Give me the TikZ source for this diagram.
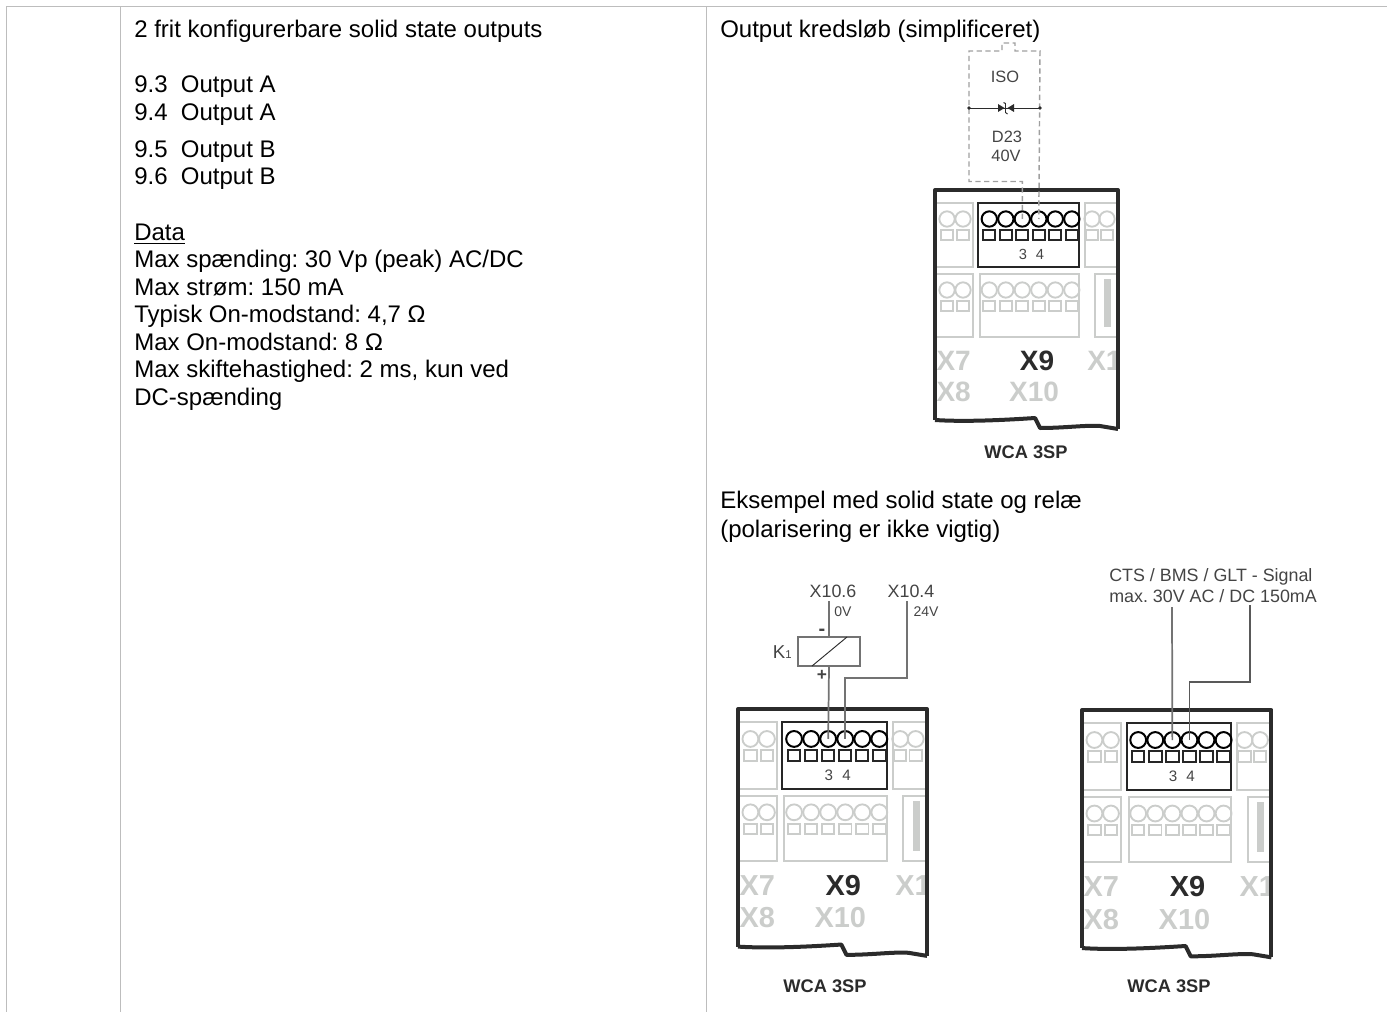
\documentclass[tikz,border=0pt]{standalone}
\usepackage{fontspec}
\setmainfont{Liberation Sans}
\frenchspacing
\definecolor{tablegray}{HTML}{BDBDBD}
\definecolor{partgray}{HTML}{CBCDCB}
\definecolor{wallblack}{HTML}{2B2B2B}
\definecolor{labelgray}{HTML}{444444}
\tikzset{
  txt/.style={anchor=base west, inner sep=0pt, font=\fontsize{18}{20}\selectfont, text=black},
  small/.style={inner sep=0pt, font=\fontsize{13.4}{16}\selectfont, text=labelgray},
  tiny/.style={inner sep=0pt, font=\fontsize{10.5}{12}\selectfont, text=labelgray},
  wca/.style={inner sep=0pt, font=\bfseries\fontsize{13.7}{16}\selectfont, text=wallblack},
  bigx/.style={inner sep=0pt, transform shape, font=\bfseries\fontsize{21}{24}\selectfont, text=partgray},
  termpin/.style={circle, draw=black, line width=1.5pt, minimum size=11.5pt, inner sep=0pt, transform shape},
  graypin/.style={circle, draw=partgray, line width=1.4pt, minimum size=11.5pt, inner sep=0pt, transform shape},
  wire/.style={draw=gray!90!black, line width=1.3pt},
  isoline/.style={draw=gray!75, line width=1.1pt, dash pattern=on 4pt off 2.6pt}
}
\begin{document}
\begin{tikzpicture}[x=0.75pt, y=-0.75pt]
    \useasboundingbox (0,0) rectangle (1387,1012);
    %table
    \draw[tablegray, line width=0.9pt] (6.5,1012) -- (6.5,6.5) -- (1387,6.5);
    \draw[tablegray, line width=0.7pt] (120.5,6.5) -- (120.5,1012);
    \draw[tablegray, line width=0.7pt] (706,6.5) -- (706,1012);

    %left column
    \node[txt] (title) at (134,37.7) {2 frit konfigurerbare solid state outputs};
    \node[txt] (outa1) at (134,92.7) {9.3\ \ Output A};
    \node[txt] (outa2) at (134,120.7) {9.4\ \ Output A};
    \node[txt] (outb1) at (134,157.7) {9.5\ \ Output B};
    \node[txt] (outb2) at (134,184.7) {9.6\ \ Output B};
    \node[txt] (data) at (134,240.7) {\underline{Data}};
    \node[txt] (volt) at (134,267.7) {Max spænding: 30 Vp (peak) AC/DC};
    \node[txt] (curr) at (134,295.5) {Max strøm: 150 mA};
    \node[txt] (rtyp) at (134,322.5) {Typisk On-modstand: 4,7 Ω};
    \node[txt] (rmax) at (134,350) {Max On-modstand: 8 Ω};
    \node[txt] (freq) at (134,377) {Max skiftehastighed: 2 ms, kun ved};
    \node[txt] (freq2) at (134,405) {DC-spænding};

    %right column
    \node[txt] (circ) at (720,38) {Output kredsløb (simplificeret)};
    \node[txt] (exa1) at (720,508) {Eksempel med solid state og relæ};
    \node[txt] (exa2) at (720,537) {(polarisering er ikke vigtig)};

    %modules
    \foreach \mx/\my/\ms/\mn in {935/190/1/a, 738/709/1.033/b, 1082/710/1.035/c} {
      \begin{scope}[shift={(\mx,\my)}, scale=\ms]
        \begin{scope}
          \clip (1,1) rectangle (182,236);
          \draw[partgray, line width=1.5pt] (-5,13) rectangle (38,77);
          \draw[partgray, line width=1.5pt] (150,13) rectangle (190,77);
          \draw[partgray, line width=1.5pt] (-5,84) rectangle (38,147);
          \draw[partgray, line width=1.5pt] (45,84) rectangle (144,147);
          \draw[partgray, line width=1.5pt] (160,84) rectangle (190,147);
          \fill[partgray] (169,89) rectangle (176,137);
          \foreach \cx in {12,28,157,172} {
            \node[graypin] (gt\mn\cx) at (\cx,29) {};
            \draw[partgray, line width=1.4pt] (\cx-6,40) rectangle (\cx+6,50);
          }
          \foreach \cx in {12,28,54.3,70.8,87.3,103.8,120.3,136.8} {
            \node[graypin] at (\cx,100) {};
            \draw[partgray, line width=1.4pt] (\cx-6,111) rectangle (\cx+6,121);
          }
          \node[bigx, anchor=east] (xseven\mn) at (36,171) {X7};
          \node[bigx, anchor=east] (xeight\mn) at (36,202) {X8};
          \node[bigx, anchor=west] (xone\mn) at (152,171) {X1};
          \node[bigx] (xten\mn) at (99,202) {X10};
        \end{scope}
        \node[bigx, text=wallblack] (xnine\mn) at (102,171) {X9};
        \draw[wallblack, line width=3pt, line join=round] (0,230) -- (0,0) -- (183,0) -- (183,239);
        \draw[wallblack, line width=3pt, line join=round] (0,230) .. controls (30,232) and (70,230) .. (100,228)
          -- (105,238) .. controls (130,238) and (150,235) .. (165,236) -- (183,239);
        \draw[black!85, line width=1.5pt] (43,13) rectangle (144,77);
        \foreach \i in {1,2,3,4,5,6} {
          \node[termpin] (pin\mn\i) at (54.3+16.5*\i-16.5,29) {};
          \draw[black!85, line width=1.5pt] (54.3+16.5*\i-16.5-6,40) rectangle (54.3+16.5*\i-16.5+6,50);
        }
        \node[tiny, transform shape, font=\fontsize{11}{12}\selectfont] (three\mn) at (88,64) {3};
        \node[tiny, transform shape, font=\fontsize{11}{12}\selectfont] (four\mn) at (105,64) {4};
      \end{scope}
    }
    \node[wca] (wcaa) at (1026,452) {WCA 3SP};
    \node[wca] (wcab) at (825,986) {WCA 3SP};
    \node[wca] (wcac) at (1169,986) {WCA 3SP};

    %upper circuit
    \node[small, font=\fontsize{12.3}{14}\selectfont] (iso) at (1005,77) {ISO};
    \node[small, font=\fontsize{12.3}{14}\selectfont] (dtwo) at (1007,137) {D23};
    \node[small, font=\fontsize{12.3}{14}\selectfont] (forty) at (1006,156) {40V};
    \coordinate (dl) at (969,108);
    \coordinate (dr) at (1040,108);
    \draw[isoline] (pina3.center) -- (pina3 |- 0,181.5) -- (969,181.5) -- (969,51) -- (1002,51) -- (1002,43) -- (1015,43) -- (1015,51) -- (1040,51) -- (pina4.center);
    \draw[wallblack, line width=0.6pt] (dl) -- (dr);
    \fill[wallblack] (dl) circle[radius=1.8] (dr) circle[radius=1.8];
    \fill[wallblack] (998,104) -- (1004.5,108) -- (998,112) -- cycle;
    \fill[wallblack] (1014,104) -- (1007.5,108) -- (1014,112) -- cycle;
    \draw[wallblack, line width=0.7pt] (1003.5,102.5) -- (1005.5,103.5) -- (1005.5,112.5) -- (1007.5,114);

    %relay circuit
    \node[small] (xsix) at (833,591) {X10.6};
    \node[small] (xfour) at (911,591) {X10.4};
    \node[tiny] (zero) at (843,612) {0V};
    \node[tiny] (plus) at (926,612) {24V};
    \node[small, font=\fontsize{14}{16}\selectfont, anchor=base east] (kone) at (792,658) {K{\fontsize{8.5}{9}\selectfont 1}};
    \node[draw=gray!90!black, line width=1.3pt, minimum width=46.5pt, minimum height=21.75pt, inner sep=0pt] (coil) at (829,651.5) {};
    \draw[wallblack, line width=0.7pt] (812,666) -- (847,637);
    \node[small, font=\bfseries\fontsize{15}{16}\selectfont] (minus) at (822,632) {-};
    \node[small, font=\bfseries\fontsize{13}{14}\selectfont] (pluss) at (822,675) {+};
    \coordinate (tapk) at (829,601);
    \coordinate (tapv) at (907,601);
    \draw[wire] (tapk) -- (coil.north);
    \draw[wire] (coil.south) -- (pinb3.center);
    \draw[wire] (tapv) -- (907,678) -- (pinb4 |- 0,678) -- (pinb4.center);

    %signal circuit
    \node[small, anchor=base west] (ctsa) at (1109,581) {CTS / BMS / GLT - Signal};
    \node[small, anchor=base west] (ctsb) at (1109,602) {max. 30V AC / DC 150mA};
    \coordinate (tapa) at (1172,607);
    \coordinate (tapb) at (1250,605);
    \draw[wire] (tapa) -- (pinc3.center);
    \draw[wire, gray!70!black] (tapb) -- (1250,682) -- (pinc4 |- 0,682) -- (pinc4.center);
\end{tikzpicture}
\end{document}
